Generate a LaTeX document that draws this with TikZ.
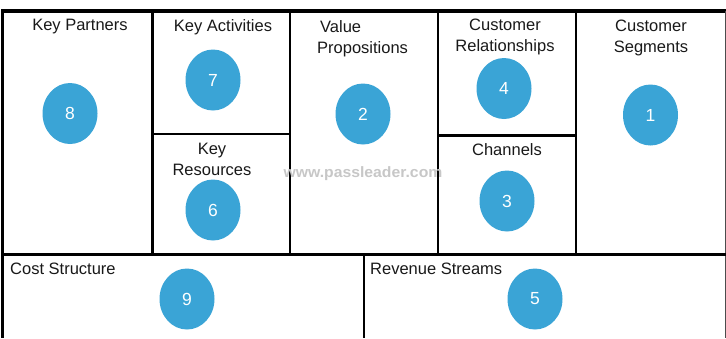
\documentclass[tikz,border=0pt]{standalone}
\usepackage{fontspec}
\setmainfont{Liberation Sans}
\usetikzlibrary{shapes.geometric}
\definecolor{bubble}{RGB}{58,164,214}
\begin{document}
\begin{tikzpicture}[x=1pt,y=-1pt,
  lbl/.style={font=\fontsize{16.5}{21}\selectfont, align=center, inner sep=0pt, text=black!90},
  lbll/.style={font=\fontsize{16.5}{21}\selectfont, anchor=west, inner sep=0pt, text=black!90},
  num/.style={shape=ellipse, fill=bubble, minimum width=55pt, minimum height=61pt, inner sep=0pt, text=white, font=\fontsize{17.5}{17.5}\selectfont},
  frame/.style={line width=2.4pt, draw=black}]
\useasboundingbox (0,0) rectangle (726,338);
\fill[white] (0,0) rectangle (726,338);
% grid lines
\draw[line width=3.5pt] (1,11) -- (726,11);
\draw[line width=3pt] (2,9.5) -- (2,338);
\draw[line width=1pt, draw=black!70] (725,11) -- (725,338);
\draw[frame] (152.5,11) -- (152.5,254.5);
\draw[frame] (290,11) -- (290,254.5);
\draw[frame] (438,11) -- (438,254.5);
\draw[frame] (576,11) -- (576,254.5);
\draw[frame] (152.5,134) -- (290,134);
\draw[frame] (438,135.5) -- (576,135.5);
\draw[frame] (2,254.5) -- (726,254.5);
\draw[frame] (364,254.5) -- (364,338);
% labels
\node[lbl] (kp) at (80,27) {Key Partners};
\node[lbl] (ka) at (223,27) {Key Activities};
\node[lbl, anchor=north west, align=left] (vp) at (317,20) {\hspace{3pt}Value\\Propositions};
\node[lbl, anchor=north] (cr) at (505,19) {Customer\\Relationships};
\node[lbl, anchor=north] (cs) at (651,20) {Customer\\Segments};
\node[lbl, anchor=north] (kr) at (212,143) {Key\\Resources};
\node[lbl] (ch) at (507,150) {Channels};
\node[lbll] (cst) at (10,269) {Cost Structure};
\node[lbll] (rs) at (370,269) {Revenue Streams};
% watermark
\node[inner sep=0pt, text=black!22, font=\bfseries\fontsize{15}{15}\selectfont, xscale=1.05] (wm) at (363,174) {www.passleader.com};
% bubbles
\node[num] (n8) at (70,113.5) {8};
\node[num] (n7) at (213,80) {7};
\node[num] (n2) at (363,114) {2};
\node[num] (n4) at (504,88.5) {4};
\node[num] (n1) at (650.5,115) {1};
\node[num] (n6) at (213,210) {6};
\node[num] (n3) at (507,201) {3};
\node[num] (n9) at (187,299) {9};
\node[num] (n5) at (535,299) {5};
\end{tikzpicture}
\end{document}
